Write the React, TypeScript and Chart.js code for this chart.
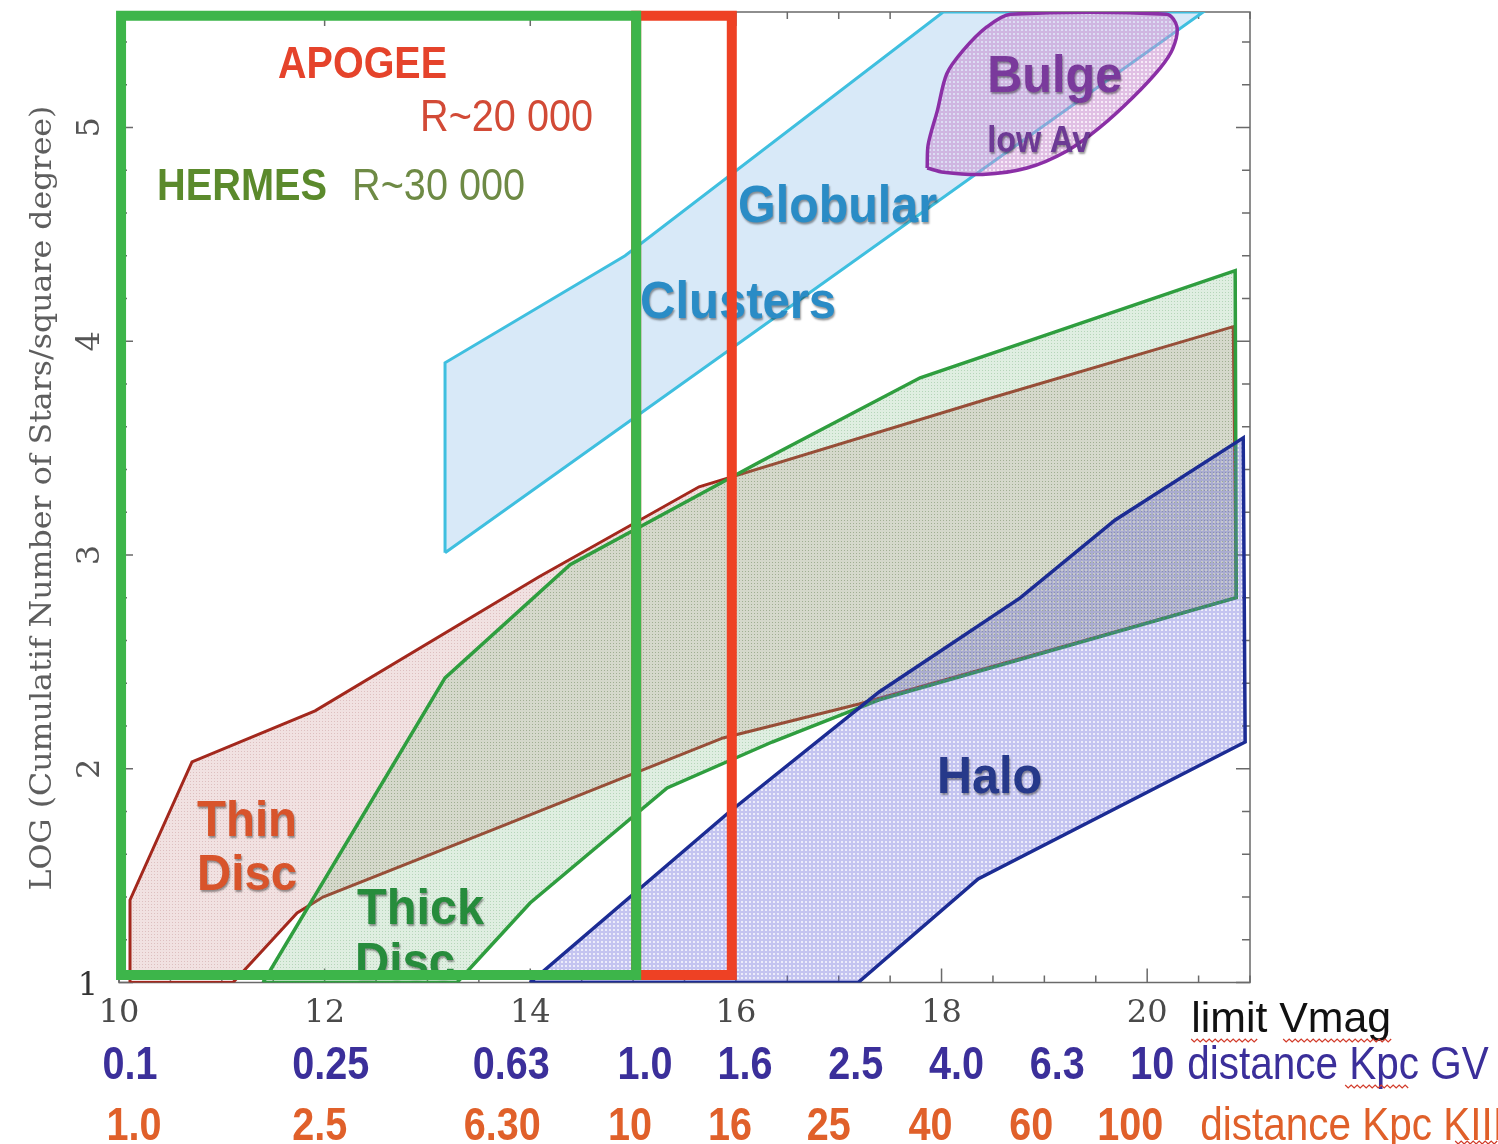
import { useEffect, useRef } from 'react';
import { Chart, registerables } from 'chart.js';

Chart.register(...registerables);

type Pt = [number, number];

// Axis ranges: limiting V magnitude (x) and log10 cumulative star counts per square degree (y)
const X_MIN = 10;
const X_MAX = 21;
const Y_MIN = 1;
const Y_MAX = 5.54;

const vmagTicks = [10, 12, 14, 16, 18, 20];
const logTicks = [1, 2, 3, 4, 5];

// Distance scales printed under the magnitude axis
const distanceMags = [10, 12, 14, 15, 16, 17, 18, 19, 20];
const distanceGV = ['0.1', '0.25', '0.63', '1.0', '1.6', '2.5', '4.0', '6.3', '10'];
const distanceKIII = ['1.0', '2.5', '6.30', '10', '16', '25', '40', '60', '100'];

// Survey domains
const hermesBox: Pt[] = [[10.02, 1.035], [15.03, 1.035], [15.03, 5.523], [10.02, 5.523], [10.02, 1.035]];
const apogeeBox: Pt[] = [[15.03, 1.035], [15.96, 1.035], [15.96, 5.523], [15.03, 5.523], [15.03, 1.035]];

// Stellar population envelopes
const globularClusters: Pt[] = [
  [13.171, 3.01], [13.171, 3.899], [14.922, 4.4], [18.016, 5.54], [20.545, 5.54], [13.171, 3.01],
];
const bulgeLowAv: Pt[] = [
  [17.86, 4.81], [17.87, 4.92], [17.96, 5.08], [18.05, 5.25], [18.21, 5.36], [18.44, 5.47],
  [18.67, 5.53], [20.19, 5.53], [20.29, 5.47], [20.25, 5.37], [20.13, 5.28], [19.86, 5.14],
  [19.54, 5.0], [19.22, 4.89], [18.83, 4.81], [18.4, 4.78], [18.02, 4.79], [17.86, 4.81],
];
const thinDisc: Pt[] = [
  [10.107, 1.0], [10.107, 1.386], [10.71, 2.032], [11.907, 2.271], [14.086, 2.898], [15.642, 3.319],
  [18.424, 3.726], [20.837, 4.068], [20.866, 2.8], [17.198, 2.303], [15.875, 2.144], [13.706, 1.728],
  [11.984, 1.4], [11.732, 1.325], [11.109, 1.0], [10.107, 1.0],
];
const thickDisc: Pt[] = [
  [11.401, 1.0], [13.171, 2.425], [14.387, 2.954], [16.235, 3.436], [17.792, 3.829], [20.856, 4.33],
  [20.866, 2.8], [17.393, 2.322], [16.352, 2.125], [15.331, 1.91], [13.998, 1.372], [13.288, 1.0],
  [11.401, 1.0],
];
const halo: Pt[] = [
  [13.998, 1.0], [15.924, 1.793], [17.393, 2.359], [18.765, 2.799], [19.689, 3.164], [20.934, 3.548],
  [20.953, 2.125], [18.356, 1.484], [17.189, 1.0], [13.998, 1.0],
];

const toXY = (pts: Pt[]) => pts.map(([x, y]) => ({ x, y }));

// Region captions, anchored in data coordinates (left edge, baseline)
const captions = [
  { text: 'APOGEE', x: 11.547, y: 5.233, size: 44, bold: true, color: '#e5432b', width: 169, shadow: false },
  { text: 'R~20 000', x: 12.928, y: 4.985, size: 44, bold: false, color: '#d24a36', width: 173, shadow: false },
  { text: 'HERMES', x: 10.37, y: 4.662, size: 44, bold: true, color: '#5b8a2c', width: 170, shadow: false },
  { text: 'R~30 000', x: 12.267, y: 4.662, size: 44, bold: false, color: '#6e8a45', width: 173, shadow: false },
  { text: 'Globular', x: 16.021, y: 4.559, size: 52, bold: true, color: '#2a8cc6', width: 199, shadow: true },
  { text: 'Clusters', x: 15.068, y: 4.109, size: 52, bold: true, color: '#2a8cc6', width: 196, shadow: true },
  { text: 'Bulge', x: 18.444, y: 5.167, size: 52, bold: true, color: '#7a3a9c', width: 135, shadow: true },
  { text: 'low Av', x: 18.444, y: 4.886, size: 36, bold: true, color: '#6d3a95', width: 103, shadow: true },
  { text: 'Halo', x: 17.957, y: 1.887, size: 52, bold: true, color: '#26398a', width: 105, shadow: true },
  { text: 'Thin', x: 10.759, y: 1.686, size: 50, bold: true, color: '#d8542b', width: 100, shadow: true },
  { text: 'Disc', x: 10.759, y: 1.433, size: 50, bold: true, color: '#d8542b', width: 100, shadow: true },
  { text: 'Thick', x: 12.315, y: 1.274, size: 50, bold: true, color: '#268c3c', width: 127, shadow: true },
  { text: 'Disc', x: 12.296, y: 1.021, size: 50, bold: true, color: '#268c3c', width: 100, shadow: true },
];

const SANS = '"Liberation Sans", Arial, Helvetica, sans-serif';
const SERIF = '"DejaVu Serif", "Liberation Serif", serif';

type TextOpts = {
  size: number;
  color: string;
  bold?: boolean;
  family?: string;
  width?: number;
  sx?: number;
  align?: 'left' | 'center' | 'right';
  rotate?: number;
  shadow?: boolean;
};

function drawText(ctx: CanvasRenderingContext2D, text: string, x: number, y: number, o: TextOpts) {
  ctx.save();
  ctx.font = `${o.bold ? 'bold' : 'normal'} ${o.size}px ${o.family ?? SANS}`;
  ctx.fillStyle = o.color;
  ctx.textBaseline = 'alphabetic';
  ctx.textAlign = 'left';
  const w = ctx.measureText(text).width;
  const sx = o.width ? o.width / w : o.sx ?? 1;
  ctx.translate(x, y);
  if (o.rotate) ctx.rotate(o.rotate);
  ctx.scale(sx, 1);
  const align = o.align ?? 'left';
  const dx = align === 'center' ? -w / 2 : align === 'right' ? -w : 0;
  if (o.shadow) {
    ctx.shadowColor = 'rgba(0,0,0,0.4)';
    ctx.shadowBlur = 2;
    ctx.shadowOffsetX = 1;
    ctx.shadowOffsetY = 2;
  }
  ctx.fillText(text, dx, 0);
  ctx.restore();
}

function squiggle(ctx: CanvasRenderingContext2D, x0: number, x1: number, y: number) {
  ctx.save();
  ctx.strokeStyle = '#d23b2a';
  ctx.lineWidth = 1.2;
  ctx.beginPath();
  let i = 0;
  for (let x = x0; x <= x1; x += 3, i++) {
    const yy = y + (i % 2 ? 1.5 : -1.5);
    if (i === 0) ctx.moveTo(x, yy);
    else ctx.lineTo(x, yy);
  }
  ctx.stroke();
  ctx.restore();
}

function dotPattern(base: string, dot: string, tile: number, dotSize: number): CanvasPattern | string {
  const c = document.createElement('canvas');
  c.width = tile;
  c.height = tile;
  const g = c.getContext('2d');
  if (!g) return base;
  g.fillStyle = base;
  g.fillRect(0, 0, tile, tile);
  g.clearRect(1, 1, dotSize, dotSize);
  g.fillStyle = dot;
  g.fillRect(1, 1, dotSize, dotSize);
  return g.createPattern(c, 'repeat') ?? base;
}

// Frame with inward ticks on all four sides
const framePlugin = {
  id: 'frame',
  beforeDatasetsDraw(chart: any) {
    const { ctx, chartArea: a, scales } = chart;
    const xs = scales.x;
    const ys = scales.y;
    ctx.save();
    ctx.strokeStyle = '#6a6a6a';
    ctx.lineWidth = 1.5;
    ctx.strokeRect(a.left, a.top, a.right - a.left, a.bottom - a.top);
    ctx.beginPath();
    for (let k = 0; k <= (X_MAX - X_MIN) * 2; k++) {
      const v = X_MIN + k * 0.5;
      const px = xs.getPixelForValue(v);
      const len = Math.abs(v % 2) < 1e-6 ? 14 : 7;
      ctx.moveTo(px, a.bottom);
      ctx.lineTo(px, a.bottom - len);
      ctx.moveTo(px, a.top);
      ctx.lineTo(px, a.top + len);
    }
    for (let k = 0; ; k++) {
      const v = Y_MIN + k * 0.2;
      if (v > Y_MAX) break;
      const py = ys.getPixelForValue(v);
      const len = Math.abs(v - Math.round(v)) < 1e-6 ? 14 : 8;
      ctx.moveTo(a.left, py);
      ctx.lineTo(a.left + len, py);
      ctx.moveTo(a.right, py);
      ctx.lineTo(a.right - len, py);
    }
    ctx.stroke();
    ctx.restore();
  },
  afterDraw(chart: any) {
    const { ctx, chartArea: a, scales } = chart;
    const xs = scales.x;
    const ys = scales.y;

    // magnitude tick labels
    vmagTicks.forEach((v) => {
      drawText(ctx, String(v), xs.getPixelForValue(v), a.bottom + 39, {
        size: 32, color: '#4a4a4a', family: SERIF, align: 'center',
      });
    });
    // log-count tick labels (the lowest is upright, the others turned)
    logTicks.forEach((v) => {
      const py = ys.getPixelForValue(v);
      if (v === Y_MIN) {
        drawText(ctx, String(v), 88, py + 12, { size: 32, color: '#333', family: SERIF, align: 'center' });
      } else {
        drawText(ctx, String(v), 99, py, {
          size: 32, color: '#555', family: SERIF, align: 'center', rotate: -Math.PI / 2,
        });
      }
    });
    // y-axis title
    drawText(ctx, 'LOG (Cumulatif Number of Stars/square degree)', 51, ys.getPixelForValue(1.43), {
      size: 29, color: '#5e5e5e', family: SERIF, rotate: -Math.PI / 2, width: 785,
    });

    // x-axis title
    const x20 = xs.getPixelForValue(20);
    drawText(ctx, 'limit Vmag', x20 + 44, a.bottom + 49, { size: 42, color: '#111', width: 200 });
    squiggle(ctx, x20 + 44, x20 + 110, a.bottom + 58);
    squiggle(ctx, x20 + 136, x20 + 246, a.bottom + 58);

    // distance rows
    const gvNudge = [11, 6, -19, 12, 9, 17, 15, 13, 5];
    const kNudge = [15, -5, -28, -3, -6, -10, -11, -13, -17];
    distanceMags.forEach((m, i) => {
      const px = xs.getPixelForValue(m);
      drawText(ctx, distanceGV[i], px + gvNudge[i], a.bottom + 96, {
        size: 46, bold: true, color: '#3b2f9a', align: 'center', sx: 0.86,
      });
      drawText(ctx, distanceKIII[i], px + kNudge[i], a.bottom + 157, {
        size: 46, bold: true, color: '#e0602a', align: 'center', sx: 0.86,
      });
    });
    drawText(ctx, 'distance Kpc GV', x20 + 40, a.bottom + 96, { size: 46, color: '#3b2f9a', sx: 0.88 });
    drawText(ctx, 'distance Kpc KIII', x20 + 53, a.bottom + 157, { size: 46, color: '#e0602a', sx: 0.88 });
    squiggle(ctx, x20 + 198, x20 + 262, a.bottom + 104);
    squiggle(ctx, x20 + 308, x20 + 351, a.bottom + 160);
  },
};

// Region captions go under the survey boxes
const captionPlugin = {
  id: 'captions',
  beforeDatasetDraw(chart: any, args: any) {
    if (chart.data.datasets[args.index].label !== 'APOGEE') return;
    const { ctx, scales } = chart;
    captions.forEach((c) => {
      drawText(ctx, c.text, scales.x.getPixelForValue(c.x), scales.y.getPixelForValue(c.y), {
        size: c.size, bold: c.bold, color: c.color, width: c.width, shadow: c.shadow,
      });
    });
  },
};

export default function App() {
  const canvasRef = useRef<HTMLCanvasElement | null>(null);

  useEffect(() => {
    const canvas = canvasRef.current;
    if (!canvas) return;

    const thinFill = dotPattern('rgba(200,140,140,0.26)', 'rgba(170,95,95,0.40)', 3, 1);
    const thickFill = dotPattern('rgba(130,190,140,0.26)', 'rgba(70,150,80,0.40)', 3, 1);
    const haloFill = dotPattern('rgba(100,100,215,0.38)', 'rgba(100,100,215,0.12)', 4, 2);
    const bulgeFill = dotPattern('rgba(200,140,205,0.55)', 'rgba(230,200,235,0.35)', 4, 2);

    // listed bottom to top
    const layers: any[] = [
      { label: 'Globular Clusters', data: toXY(globularClusters), borderColor: '#3fbfdf', borderWidth: 3, backgroundColor: '#d8e9f8', fill: 'shape' },
      { label: 'Bulge', data: toXY(bulgeLowAv), borderColor: '#8b2fa6', borderWidth: 3.5, backgroundColor: bulgeFill, fill: 'shape', tension: 0.3 },
      { label: 'Thin Disc', data: toXY(thinDisc), borderColor: '#a3281d', borderWidth: 3, backgroundColor: thinFill, fill: 'shape' },
      { label: 'Thick Disc', data: toXY(thickDisc), borderColor: '#2f9e3f', borderWidth: 3.5, backgroundColor: thickFill, fill: 'shape' },
      { label: 'Halo', data: toXY(halo), borderColor: '#1c2c94', borderWidth: 3.5, backgroundColor: haloFill, fill: 'shape' },
      { label: 'APOGEE', data: toXY(apogeeBox), borderColor: '#ee4124', borderWidth: 10, fill: false, clip: false, borderCapStyle: 'square' },
      { label: 'HERMES', data: toXY(hermesBox), borderColor: '#3db54a', borderWidth: 10, fill: false, clip: false, borderCapStyle: 'square' },
    ];
    const datasets = layers.map((d, i) => ({
      pointRadius: 0,
      pointHoverRadius: 0,
      tension: 0,
      borderJoinStyle: 'miter',
      ...d,
      order: layers.length - i,
    }));

    const chart = new Chart(canvas, {
      type: 'line',
      data: { datasets },
      options: {
        responsive: false,
        animation: false,
        events: [],
        layout: { padding: { left: 119, right: 248, top: 12, bottom: 161.5 } },
        plugins: {
          legend: { display: false },
          tooltip: { enabled: false },
          title: { display: false },
        },
        scales: {
          x: { type: 'linear', min: X_MIN, max: X_MAX, display: false },
          y: { type: 'linear', min: Y_MIN, max: Y_MAX, display: false },
        },
      },
      plugins: [framePlugin, captionPlugin],
    } as any);

    return () => chart.destroy();
  }, []);

  return (
    <div style={{ position: 'absolute', left: 0, top: 0, width: 1498, height: 1144, background: '#fff' }}>
      <canvas ref={canvasRef} width={1498} height={1144} style={{ width: 1498, height: 1144, display: 'block' }} />
    </div>
  );
}
